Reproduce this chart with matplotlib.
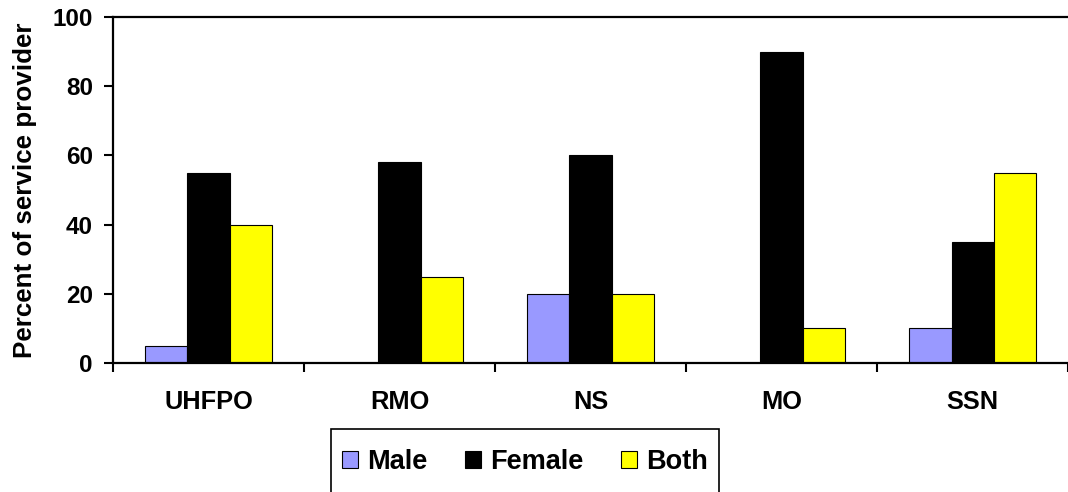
import matplotlib
matplotlib.use("Agg")
import matplotlib.pyplot as plt
from matplotlib.patches import Rectangle
import numpy as np

# data
categories = ['UHFPO', 'RMO', 'NS', 'MO', 'SSN']
male = [5, 0, 20, 0, 10]
female = [55, 58, 60, 90, 35]
both = [40, 25, 20, 10, 55]

series = [('Male', male, '#9999FF'), ('Female', female, '#000000'), ('Both', both, '#FFFF00')]

plt.rcParams['font.family'] = ['Liberation Sans', 'DejaVu Sans']
plt.rcParams['font.weight'] = 'bold'

W, H = 1068, 492
fig = plt.figure(figsize=(W / 100, H / 100), dpi=100)
ax = fig.add_axes([0.1058, 0.2622, 0.8945, 0.7032])

x = np.arange(len(categories))
w = 1 / 4.5  # excel gap width 150%
for i, (name, vals, col) in enumerate(series):
    ax.bar(x + (i - 1) * w, vals, w, color=col, edgecolor='black', linewidth=0.8, label=name)

ax.set_xlim(-0.5, 4.5)
ax.set_ylim(0, 100)
ax.set_yticks(range(0, 101, 20))
ax.set_xticks(x)
ax.set_xticklabels(categories, fontsize=18.3, fontweight='bold')
ax.set_xticks(np.arange(-0.5, 5, 1), minor=True)
ax.tick_params(axis='x', which='major', length=0, pad=19.5)
ax.tick_params(axis='x', which='minor', length=6.5, width=1.5, direction='out')
ax.tick_params(axis='y', length=6.5, width=1.5, direction='out', labelsize=17.5, pad=8)
for lab in ax.get_yticklabels():
    lab.set_fontweight('bold')

ax.spines['right'].set_visible(False)
for s in ['left', 'bottom', 'top']:
    ax.spines[s].set_linewidth(1.6)

ax.set_ylabel('Percent of service provider', fontsize=18.7, fontweight='bold', labelpad=11)

# legend frame runs off the bottom edge like in the original
fig.patches.append(Rectangle((331 / W, -0.05), (719 - 331) / W, 0.05 + (492 - 429) / H,
                             transform=fig.transFigure, fill=False, edgecolor='black',
                             linewidth=1.2))
leg = fig.legend(loc='center', bbox_to_anchor=(525 / W, 1 - 462 / H), ncol=3,
                 fontsize=19.5, frameon=False,
                 handlelength=0.57, handleheight=0.57, handletextpad=0.35,
                 columnspacing=1.4, borderpad=0, borderaxespad=0)
for t in leg.get_texts():
    t.set_fontweight('bold')

fig.savefig('out.png', dpi=100)
